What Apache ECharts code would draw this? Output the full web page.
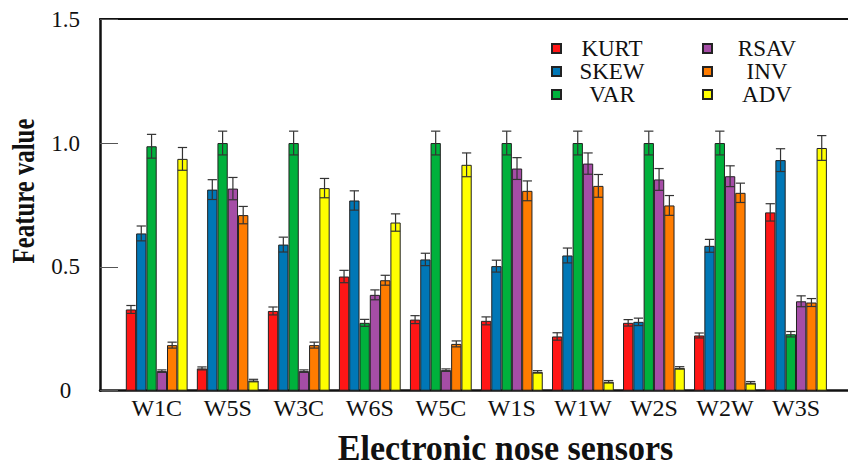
<!DOCTYPE html>
<html>
<head>
<meta charset="utf-8">
<script src="https://cdn.jsdelivr.net/npm/echarts@6/dist/echarts.min.js"></script>
<style>
  html, body { margin: 0; padding: 0; background: #fff; }
  #chart { width: 848px; height: 468px; }
</style>
</head>
<body>
<div id="chart"></div>
<script>
// Sensor channels of the electronic nose
var sensors = ['W1C', 'W5S', 'W3C', 'W6S', 'W5C', 'W1S', 'W1W', 'W2S', 'W2W', 'W3S'];

// Normalised feature values per sensor
var kurt = [0.328, 0.090, 0.322, 0.461, 0.287, 0.282, 0.219, 0.274, 0.223, 0.720];
var skew = [0.635, 0.812, 0.590, 0.768, 0.530, 0.503, 0.546, 0.278, 0.585, 0.931];
var varF = [0.987, 1.000, 1.000, 0.274, 1.000, 1.000, 1.000, 1.000, 1.000, 0.228];
var rsav = [0.079, 0.816, 0.079, 0.387, 0.083, 0.897, 0.917, 0.853, 0.866, 0.361];
var inv  = [0.184, 0.709, 0.184, 0.446, 0.189, 0.807, 0.827, 0.748, 0.799, 0.356];
var adv  = [0.936, 0.041, 0.818, 0.679, 0.912, 0.076, 0.036, 0.092, 0.032, 0.980];

// Standard deviations (error bars)
var kurtErr = [0.016, 0.006, 0.016, 0.025, 0.016, 0.016, 0.015, 0.013, 0.010, 0.035];
var skewErr = [0.030, 0.040, 0.030, 0.039, 0.025, 0.024, 0.030, 0.015, 0.026, 0.046];
var varErr  = [0.048, 0.048, 0.048, 0.014, 0.048, 0.048, 0.048, 0.048, 0.048, 0.011];
var rsavErr = [0.005, 0.045, 0.005, 0.020, 0.005, 0.044, 0.043, 0.044, 0.042, 0.022];
var invErr  = [0.012, 0.035, 0.012, 0.020, 0.012, 0.040, 0.046, 0.040, 0.039, 0.016];
var advErr  = [0.046, 0.005, 0.039, 0.035, 0.048, 0.005, 0.005, 0.005, 0.005, 0.050];

var yTicks = ['0', '0.5', '1.0', '1.5'];

var featureNames = ['KURT', 'SKEW', 'VAR', 'RSAV', 'INV', 'ADV'];
var featureValues = [kurt, skew, varF, rsav, inv, adv];
var featureErrors = [kurtErr, skewErr, varErr, rsavErr, invErr, advErr];
var featureColors = ['#ff1616', '#0077b6', '#00b13c', '#a54da6', '#ff7c00', '#ffff00'];

var SERIF = 'Times New Roman, Liberation Serif, serif';
var CATEGORY_GAP = 0.13;

var series = [];
featureNames.forEach(function (name, k) {
  series.push({
    name: name,
    type: 'bar',
    xAxisIndex: 1,
    yAxisIndex: 1,
    barGap: '0%',
    barCategoryGap: (CATEGORY_GAP * 100) + '%',
    data: featureValues[k],
    itemStyle: { color: featureColors[k], borderColor: '#222', borderWidth: 1 }
  });
});

// Error bars drawn at each bar's slot within its group
featureNames.forEach(function (name, k) {
  var errData = featureValues[k].map(function (v, i) { return [i, v, featureErrors[k][i]]; });
  series.push({
    name: name + ' sd',
    type: 'custom',
    xAxisIndex: 1,
    yAxisIndex: 1,
    z: 5,
    silent: true,
    data: errData,
    renderItem: function (params, api) {
      var idx = api.value(0), v = api.value(1), e = api.value(2);
      var band = api.size([1, 0])[0];
      var barW = band * (1 - CATEGORY_GAP) / featureNames.length;
      var base = api.coord([idx, v]);
      var x = base[0] + (k - (featureNames.length - 1) / 2) * barW;
      var yTop = api.coord([idx, v + e])[1];
      var yBot = api.coord([idx, v - e])[1];
      var half = barW * 0.45;
      var st = { stroke: '#333', lineWidth: 1.2 };
      return {
        type: 'group',
        children: [
          { type: 'line', shape: { x1: x, y1: yTop, x2: x, y2: yBot }, style: st },
          { type: 'line', shape: { x1: x - half, y1: yTop, x2: x + half, y2: yTop }, style: st },
          { type: 'line', shape: { x1: x - half, y1: yBot, x2: x + half, y2: yBot }, style: st }
        ]
      };
    }
  });
});

var legendText = function (w) {
  return {
    fontFamily: SERIF, fontSize: 23, color: '#111',
    rich: { c: { width: w, align: 'center', fontFamily: SERIF, fontSize: 23, lineHeight: 23.3, color: '#111' } }
  };
};

var chart = echarts.init(document.getElementById('chart'), null, { renderer: 'svg' });
chart.setOption({
  animation: false,
  backgroundColor: '#fff',
  textStyle: { fontFamily: SERIF },
  grid: [
    { left: 100, right: 0, top: 19.2, bottom: 77.3 },
    { left: 121.2, width: 710.3, top: 19.2, bottom: 77.3 }
  ],
  xAxis: [
    { gridIndex: 0, type: 'value', min: 0, max: 1, position: 'bottom',
      axisLine: { lineStyle: { color: '#111', width: 2.5 } },
      axisTick: { show: false }, axisLabel: { show: false }, splitLine: { show: false } },
    { gridIndex: 1, type: 'category', data: sensors,
      axisLine: { show: false }, axisTick: { show: false }, splitLine: { show: false },
      axisLabel: { interval: 0, fontFamily: SERIF, fontSize: 24, color: '#111', margin: 5 } },
    { gridIndex: 0, type: 'value', min: 0, max: 1, position: 'top',
      axisLine: { lineStyle: { color: '#111', width: 2 } },
      axisTick: { show: false }, axisLabel: { show: false }, splitLine: { show: false } }
  ],
  yAxis: [
    { gridIndex: 0, type: 'value', min: 0, max: 1.5, interval: 0.5,
      axisLine: { show: true, lineStyle: { color: '#111', width: 2.5 } },
      axisTick: { show: true, inside: true, length: 18, lineStyle: { color: '#555', width: 1 } },
      splitLine: { show: false },
      axisLabel: {
        fontFamily: SERIF, fontSize: 23, color: '#111', align: 'center', margin: 34.5,
        padding: [0, 0, 6, 0],
        formatter: function (v) { return yTicks[Math.round(v / 0.5)]; }
      } },
    { gridIndex: 1, type: 'value', min: 0, max: 1.5, show: false }
  ],
  legend: [
    { data: featureNames.slice(0, 3), orient: 'vertical', left: 551, top: 37, padding: 0,
      icon: 'rect', itemWidth: 9, itemHeight: 9, itemGap: 0, selectedMode: false,
      formatter: '{c|{name}}', textStyle: legendText(92) },
    { data: featureNames.slice(3), orient: 'vertical', left: 702, top: 37, padding: 0,
      icon: 'rect', itemWidth: 9, itemHeight: 9, itemGap: 0, selectedMode: false,
      formatter: '{c|{name}}', textStyle: legendText(100) }
  ],
  graphic: [
    { type: 'text', x: 505.5, y: 448, scaleY: 1.08,
      style: { text: 'Electronic nose sensors', fontFamily: SERIF, fontSize: 34, fontWeight: 'bold',
               fill: '#111', align: 'center', verticalAlign: 'middle' } },
    { type: 'text', x: 24, y: 191, rotation: Math.PI / 2, scaleX: 0.8,
      style: { text: 'Feature value', fontFamily: SERIF, fontSize: 31, fontWeight: 'bold',
               fill: '#111', align: 'center', verticalAlign: 'middle' } }
  ],
  series: series
});
</script>
</body>
</html>
